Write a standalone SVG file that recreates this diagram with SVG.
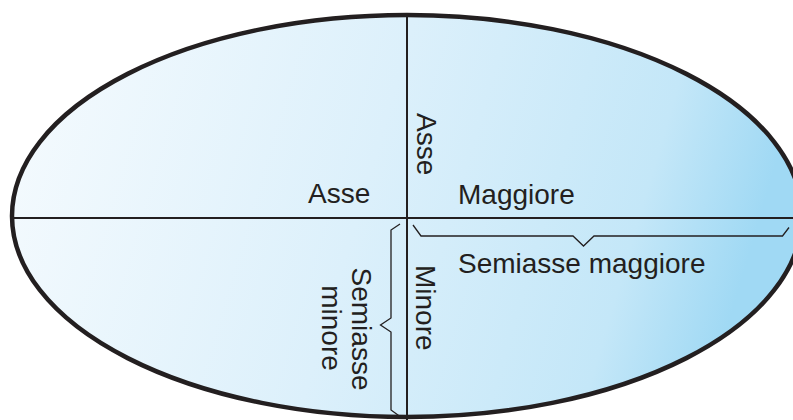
<svg xmlns="http://www.w3.org/2000/svg" width="793" height="420" viewBox="0 0 793 420">
<defs>
<linearGradient id="fillGrad" x1="0" y1="0" x2="1" y2="0.15">
<stop offset="0" stop-color="#f6fbfe"/>
<stop offset="0.5" stop-color="#dcf0fb"/>
<stop offset="0.85" stop-color="#c4e7f8"/>
<stop offset="1" stop-color="#a0d9f4"/>
</linearGradient>
<style>
.lbl{font-family:"Liberation Sans",Arial,sans-serif;font-size:28px;fill:#231f20}
.axis{stroke:#231f20;stroke-width:2;fill:none}
.brace{stroke:#231f20;stroke-width:1.3;fill:none;stroke-linejoin:miter}
</style>
</defs>
<g id="ellipse">
<ellipse cx="407" cy="216" rx="395" ry="201" fill="url(#fillGrad)" stroke="#231f20" stroke-width="4.5"/>
</g>
<g id="connectors">
<line class="axis" x1="12" y1="218" x2="802" y2="218"/>
<line class="axis" x1="407" y1="15" x2="407" y2="420"/>
<path class="brace" d="M413,225 L421,236 L573,236 L583.5,246 L594,236 L782.5,236 L789,227.5"/>
<path class="brace" d="M400,224 L391,230 L391,318 L380.5,325 L391,332 L391,410 L400,416.5"/>
</g>
<g id="label-asse-h"><text class="lbl" x="308" y="203">Asse</text></g>
<g id="label-maggiore"><text class="lbl" x="458" y="204">Maggiore</text></g>
<g id="label-semiasse-maggiore"><text class="lbl" x="458" y="273">Semiasse maggiore</text></g>
<g id="label-asse-v"><text class="lbl" transform="translate(417,113) rotate(90)">Asse</text></g>
<g id="label-minore"><text class="lbl" transform="translate(416,265) rotate(90)">Minore</text></g>
<g id="label-semiasse-minore">
<text class="lbl" text-anchor="middle" transform="translate(352,329) rotate(90)">Semiasse</text>
<text class="lbl" text-anchor="middle" transform="translate(322,328) rotate(90)">minore</text>
</g>
</svg>
